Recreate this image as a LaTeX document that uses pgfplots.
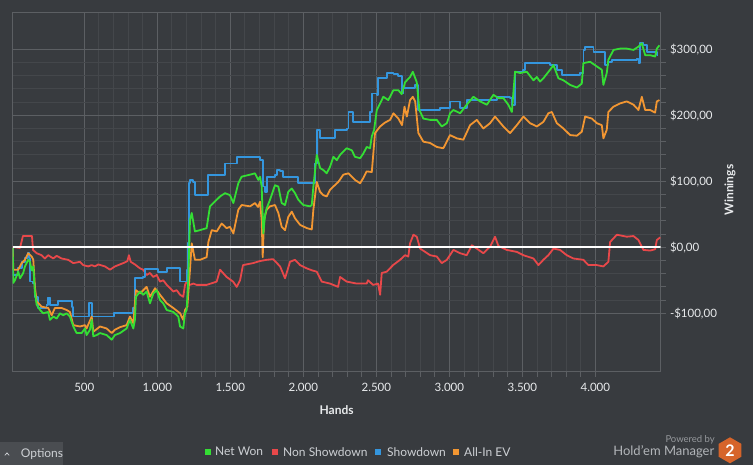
\documentclass[border=0pt]{standalone}
\usepackage{pgfplots}
\usepackage{pgfplotstable}
\pgfplotsset{compat=1.18}
\usepackage{fontspec}
\setmainfont{Lato}
\definecolor{bg}{RGB}{56,59,63}
\definecolor{gmaj}{RGB}{92,95,99}
\definecolor{gmin}{RGB}{68,71,75}
\definecolor{tickc}{RGB}{232,234,236}
\definecolor{netwon}{RGB}{52,222,52}
\definecolor{nonsd}{RGB}{232,72,74}
\definecolor{sd}{RGB}{52,150,222}
\definecolor{aiev}{RGB}{242,150,50}
\definecolor{legtxt}{RGB}{205,208,212}
\definecolor{optbg}{RGB}{74,77,81}
\definecolor{hmorange}{RGB}{214,100,42}

\pgfplotstableread{
h v
10 0.5
60 -1
80 17
142 17
149 -4
174 -9
208 -12
231 -17
253 -12
288 -17
311 -13
345 -17
390 -19
425 -24
471 -22
493 -27
527 -29
551 -27
573 -29
596 -26
642 -29
676 -34
710 -29
733 -27
767 -24
795 -21
806 -12
818 -22
847 -26
882 -32
904 -34
927 -42
950 -39
973 -45
996 -42
1019 -52
1041 -50
1065 -57
1087 -62
1110 -67
1133 -65
1156 -72
1178 -75
1190 -57
1201 -52
1224 -57
1247 -55
1270 -57
1338 -57
1407 -52
1430 -34
1475 -45
1519 -52
1544 -60
1567 -50
1587 -27
1656 -24
1700 -21
1749 -19
1793 -18
1841 -29
1875 -47
1909 -22
1943 -19
1978 -27
2024 -32
2060 -35
2092 -37
2126 -52
2183 -55
2238 -60
2252 -45
2297 -52
2366 -55
2434 -55
2443 -50
2478 -57
2512 -55
2526 -72
2537 -39
2571 -37
2615 -27
2663 -19
2697 -12
2719 -14
2731 6
2754 19
2777 16
2800 -2
2834 -7
2868 -12
2914 -14
2948 -24
2983 -19
3028 -4
3074 -9
3119 -12
3154 3
3188 -2
3233 -9
3279 1
3313 16
3336 2
3393 -4
3462 -7
3507 -12
3576 -17
3610 -27
3644 -19
3678 -12
3713 -2
3758 -4
3804 -12
3850 -17
3918 -19
3952 -27
4010 -27
4055 -29
4089 -22
4101 8
4147 19
4215 16
4261 17
4295 11
4329 -4
4375 -5
4409 -3
4421 11
4444 15
}\nonsd

\pgfplotstableread{
h v
10 -1
14 -42
48 -31
71 -22
94 -16
116 -9
125 -16
128 -52
151 -55
162 -75
185 -92
242 -87
253 -76
265 -87
322 -82
402 -82
414 -90
425 -105
527 -105
534 -85
539 -85
551 -105
699 -105
706 -100
813 -100
834 -92
847 -47
904 -45
916 -33
996 -33
1007 -37
1053 -37
1065 -32
1144 -32
1156 -52
1190 -52
1201 -34
1212 6
1219 97
1224 102
1247 99
1258 79
1338 79
1350 110
1452 110
1464 127
1532 127
1544 137
1681 137
1704 132
1722 92
1738 84
1749 107
1806 110
1818 117
1841 115
1863 107
1955 107
1966 97
2058 97
2080 127
2092 178
2115 165
2206 165
2217 178
2297 180
2309 205
2332 205
2343 190
2411 190
2457 205
2469 233
2503 231
2514 257
2571 264
2617 263
2649 260
2674 233
2686 241
2731 241
2766 246
2788 208
2891 208
2937 211
3005 221
3074 211
3119 223
3257 223
3325 228
3416 226
3428 216
3450 266
3507 269
3519 279
3667 279
3690 276
3736 269
3770 261
3896 264
3918 299
3930 304
3976 304
3987 296
4055 296
4067 276
4089 281
4113 284
4284 286
4295 279
4307 309
4329 306
4352 296
4421 291
4432 291
}\showdown

\pgfplotstableread{
h v
10 -1
14 -34
48 -34
71 -24
94 -19
116 -9
140 -14
151 -19
162 -60
174 -82
208 -90
253 -92
277 -103
299 -92
345 -92
379 -95
402 -98
425 -118
471 -120
505 -118
516 -123
551 -105
562 -128
608 -120
653 -123
688 -130
710 -125
745 -121
790 -118
813 -105
836 -115
854 -65
882 -70
927 -60
950 -75
985 -62
1019 -72
1065 -85
1110 -92
1156 -100
1178 -110
1190 -95
1206 -90
1224 -34
1236 6
1258 -19
1293 -19
1338 -15
1350 8
1373 26
1407 24
1441 36
1475 29
1498 31
1521 21
1555 57
1578 64
1635 62
1669 67
1690 61
1704 69
1715 41
1722 -15
1731 41
1749 57
1772 62
1806 64
1829 52
1852 31
1875 26
1897 46
1921 54
1943 44
1978 34
2024 29
2058 27
2069 57
2092 99
2115 84
2137 79
2160 77
2183 87
2206 92
2240 99
2274 110
2309 112
2354 102
2389 97
2411 105
2434 115
2469 114
2491 173
2526 183
2560 189
2594 193
2617 203
2651 195
2676 185
2693 213
2709 198
2731 223
2750 228
2766 221
2788 173
2822 160
2868 158
2914 152
2959 150
3005 170
3051 165
3096 163
3142 185
3188 193
3233 180
3279 188
3313 198
3370 183
3416 173
3462 185
3507 198
3553 188
3599 183
3644 190
3678 203
3702 205
3736 188
3781 180
3827 170
3873 169
3907 175
3930 198
3976 195
4010 188
4044 185
4055 165
4078 178
4089 205
4124 213
4170 218
4215 221
4261 216
4295 208
4318 228
4341 208
4375 208
4409 204
4421 221
4439 223
}\allinev

\pgfplotstableread{
h v
10 -1
14 -54
25 -50
48 -37
60 -47
82 -39
94 -29
116 -19
128 -22
140 -35
151 -29
162 -69
174 -87
197 -95
219 -100
253 -98
265 -110
288 -105
311 -108
334 -100
356 -103
379 -100
402 -105
425 -120
448 -130
482 -130
505 -123
516 -133
539 -125
551 -110
562 -135
585 -133
608 -130
653 -133
688 -140
710 -133
745 -130
790 -123
813 -110
836 -123
847 -110
854 -75
882 -67
904 -72
927 -67
950 -85
973 -70
996 -65
1019 -80
1041 -85
1065 -95
1110 -98
1144 -105
1156 -120
1178 -123
1190 -100
1201 -95
1212 -50
1224 41
1236 52
1258 24
1293 26
1338 29
1361 62
1407 72
1430 77
1464 82
1498 79
1521 67
1555 97
1578 107
1635 110
1669 112
1692 102
1704 107
1715 92
1726 21
1738 49
1749 59
1772 72
1806 94
1829 92
1852 67
1875 64
1897 84
1921 89
1943 82
1966 72
2000 64
2046 62
2058 64
2069 92
2092 140
2115 120
2137 117
2160 112
2183 122
2206 137
2229 132
2252 140
2297 150
2332 147
2354 137
2389 135
2411 142
2434 152
2457 150
2469 168
2485 178
2503 208
2526 218
2548 228
2582 223
2617 238
2651 238
2674 232
2697 250
2731 258
2750 266
2777 250
2795 208
2822 195
2868 193
2914 193
2948 183
2983 188
3005 203
3028 208
3074 203
3119 216
3165 228
3211 221
3257 216
3302 231
3336 226
3370 226
3404 216
3428 205
3450 266
3485 264
3530 266
3576 253
3599 258
3621 251
3644 256
3690 269
3713 276
3747 256
3781 253
3827 246
3873 242
3907 248
3918 279
3964 281
4010 274
4044 269
4055 246
4078 264
4089 284
4124 299
4170 301
4215 301
4261 299
4295 304
4318 309
4341 291
4375 291
4409 289
4421 301
4439 306
}\netwon

\begin{document}
\begin{tikzpicture}[x=1pt,y=1pt]
\fill[bg] (0,0) rectangle (753,465);
\useasboundingbox (0,0) rectangle (753,465);
\begin{axis}[
  at={(12.7pt,93.3pt)}, anchor=south west,
  scale only axis, width=647.8pt, height=359pt,
  xmin=10, xmax=4446, ymin=-188.5, ymax=355.4,
  axis line style={draw=gmaj, line width=0.8pt},
  grid=both,
  major grid style={draw=gmaj, line width=0.8pt},
  minor grid style={draw=gmin, line width=0.8pt},
  xtick={500,1000,1500,2000,2500,3000,3500,4000},
  xticklabels={500,1.000,1.500,2.000,2.500,3.000,3.500,4.000},
  ytick={-100,0,100,200,300},
  yticklabels={-\$100{,}00,\$0{,}00,\$100{,}00,\$200{,}00,\$300{,}00},
  minor x tick num=4, minor y tick num=4,
  tick align=outside,
  major tick length=5pt, minor tick length=5pt,
  tick style={draw=gmaj, line width=0.8pt},
  xtick pos=bottom, ytick pos=right,
  yticklabel pos=right,
  /pgf/number format/assume math mode=true,
  tick label style={font=\fontsize{11.5}{13}\selectfont, text=tickc},
  xticklabel style={yshift=-3pt},
  yticklabel style={xshift=1pt},
  clip=true,
]
\addplot[nonsd, line width=1.8pt, line join=round] table[x=h,y=v] {\nonsd};
\addplot[sd, line width=1.8pt, line join=round, const plot] table[x=h,y=v] {\showdown};
\addplot[aiev, line width=1.8pt, line join=round] table[x=h,y=v] {\allinev};
\addplot[netwon, line width=1.8pt, line join=round] table[x=h,y=v] {\netwon};
\addplot[white, line width=2.2pt] coordinates {(10,0) (4446,0)};
\end{axis}
% axis titles
\node[font=\bfseries\fontsize{12}{14}\selectfont, text=tickc] at (336.6,55) {Hands};
\node[font=\bfseries\fontsize{12}{14}\selectfont, text=tickc, rotate=90] at (730,275) {Winnings};
% legend
\fill[netwon] (204.7,10.3) rectangle (210.7,16.3);
\node[anchor=west, inner sep=0, font=\fontsize{12}{14}\selectfont, text=legtxt] at (215,13.3) {Net Won};
\fill[nonsd] (272.3,10.3) rectangle (278.3,16.3);
\node[anchor=west, inner sep=0, font=\fontsize{12}{14}\selectfont, text=legtxt] at (283,13.3) {Non Showdown};
\fill[sd] (375.3,10.3) rectangle (381.3,16.3);
\node[anchor=west, inner sep=0, font=\fontsize{12}{14}\selectfont, text=legtxt] at (387,13.3) {Showdown};
\fill[aiev] (452.8,10.3) rectangle (458.8,16.3);
\node[anchor=west, inner sep=0, font=\fontsize{12}{14}\selectfont, text=legtxt] at (464,13.3) {All-In EV};
% options button
\fill[optbg] (0,0) rectangle (62.7,22.7);
\draw[legtxt, line width=0.8pt] (4.8,9.6) -- (7,12) -- (9.2,9.6);
\node[anchor=west, inner sep=0, font=\fontsize{12}{14}\selectfont, text=legtxt] at (20.7,10.7) {Options};
% logo
\node[anchor=east, inner sep=0, font=\fontsize{9.5}{11}\selectfont, text={rgb,255:red,150;green,153;blue,157}] at (715,25) {Powered by};
\node[anchor=east, inner sep=0, font=\fontsize{13}{15}\selectfont, text={rgb,255:red,178;green,181;blue,185}] at (714.5,13.5) {Hold'em Manager};
\fill[hmorange] (730,14.7) +(90:13) -- +(150:13) -- +(210:13) -- +(270:13) -- +(330:13) -- +(30:13) -- cycle;
\node[font=\bfseries\fontsize{16}{18}\selectfont, text=white] at (730,14.7) {2};
\end{tikzpicture}
\end{document}
